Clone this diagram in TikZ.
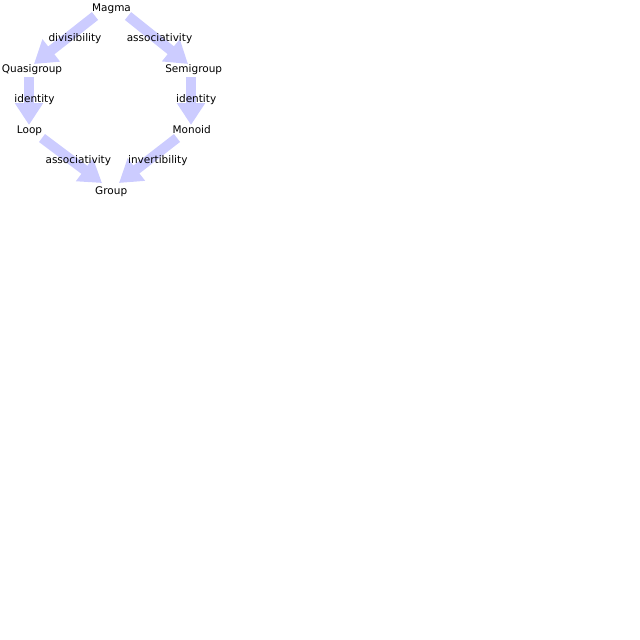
\documentclass[tikz,border=0pt]{standalone}
\usepackage{fontspec}
\setmainfont{DejaVu Sans}
\usetikzlibrary{arrows.meta}
\definecolor{arrblue}{RGB}{204,204,255}
\tikzset{
  lbl/.style={anchor=base, inner sep=0pt, font=\fontsize{10.5}{12}\selectfont},
  arr/.style={draw=arrblue, line width=10pt, -{Triangle[length=22pt,width=27pt]}}
}
\begin{document}
\begin{tikzpicture}[x=1pt,y=-1pt]
\useasboundingbox (0,0) rectangle (640,640);
% arrow end points
\coordinate (mq1) at (95,16);  \coordinate (mq2) at (34,64);
\coordinate (ms1) at (128,16); \coordinate (ms2) at (188,64);
\coordinate (ql1) at (29,77);  \coordinate (ql2) at (29,125);
\coordinate (sm1) at (191,77); \coordinate (sm2) at (191,125);
\coordinate (lg1) at (42,138); \coordinate (lg2) at (102,183);
\coordinate (mg1) at (177,138);\coordinate (mg2) at (119,183);
\draw[arr] (mq1) -- (mq2);
\draw[arr] (ms1) -- (ms2);
\draw[arr] (ql1) -- (ql2);
\draw[arr] (sm1) -- (sm2);
\draw[arr] (lg1) -- (lg2);
\draw[arr] (mg1) -- (mg2);
% nodes
\node[lbl] (magma) at (111.5,11) {Magma};
\node[lbl] (quasi) at (32,72) {Quasigroup};
\node[lbl] (semi) at (193.7,72) {Semigroup};
\node[lbl] (loop) at (29.5,133) {Loop};
\node[lbl] (monoid) at (191.7,133) {Monoid};
\node[lbl] (group) at (111.2,194) {Group};
% edge labels
\node[lbl] (l1) at (75,41.5) {divisibility};
\node[lbl] (l2) at (159.5,41.5) {associativity};
\node[lbl] (l3) at (34.5,102.3) {identity};
\node[lbl] (l4) at (196.2,102.3) {identity};
\node[lbl] (l5) at (78.3,163.5) {associativity};
\node[lbl] (l6) at (157.8,163.5) {invertibility};
\end{tikzpicture}
\end{document}
